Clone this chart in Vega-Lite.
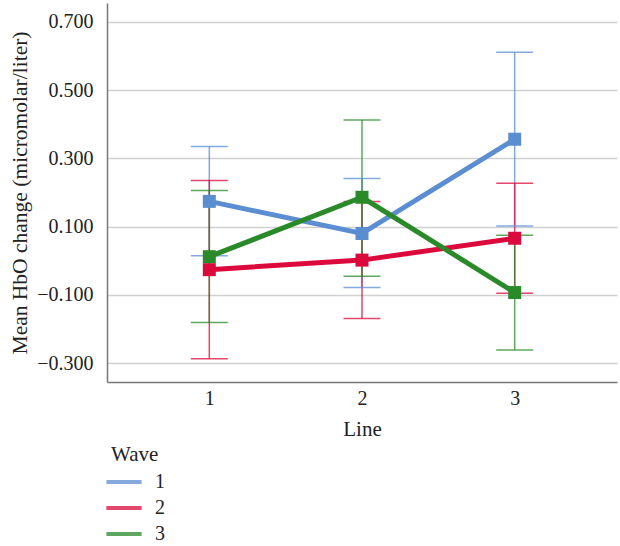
{
  "$schema": "https://vega.github.io/schema/vega-lite/v6.json",
  "width": 510,
  "height": 379,
  "autosize": "none",
  "padding": {"left": 107, "top": 3, "right": 3, "bottom": 164},
  "background": "white",
  "config": {
    "font": "Liberation Serif",
    "view": {"stroke": null},
    "axis": {"labelFont": "Liberation Serif", "titleFont": "Liberation Serif", "labelColor": "#222", "titleColor": "#222", "titleFontWeight": "normal"},
    "legend": {"labelFont": "Liberation Serif", "titleFont": "Liberation Serif", "labelColor": "#222", "titleColor": "#222", "titleFontWeight": "normal"}
  },
  "data": {
    "values": [
      {"Wave": "1", "Line": 1, "mean": 0.174, "lo": 0.015, "hi": 0.335},
      {"Wave": "1", "Line": 2, "mean": 0.080, "lo": -0.078, "hi": 0.241},
      {"Wave": "1", "Line": 3, "mean": 0.356, "lo": 0.102, "hi": 0.611},
      {"Wave": "2", "Line": 1, "mean": -0.026, "lo": -0.287, "hi": 0.235},
      {"Wave": "2", "Line": 2, "mean": 0.002, "lo": -0.169, "hi": 0.174},
      {"Wave": "2", "Line": 3, "mean": 0.066, "lo": -0.095, "hi": 0.227},
      {"Wave": "3", "Line": 1, "mean": 0.012, "lo": -0.181, "hi": 0.206},
      {"Wave": "3", "Line": 2, "mean": 0.186, "lo": -0.045, "hi": 0.412},
      {"Wave": "3", "Line": 3, "mean": -0.093, "lo": -0.261, "hi": 0.075}
    ]
  },
  "encoding": {
    "x": {
      "field": "Line", "type": "quantitative",
      "scale": {"domain": [0.33, 3.67], "nice": false, "zero": false},
      "axis": {"values": [1, 2, 3], "format": "d", "grid": false, "ticks": false, "domainColor": "#777", "domainWidth": 1.5, "labelFontSize": 20, "labelPadding": 6, "title": "Line", "titleFontSize": 21, "titlePadding": 10}
    },
    "color": {
      "field": "Wave", "type": "nominal",
      "scale": {"domain": ["1", "2", "3"], "range": ["#5b8ed0", "#dc0a3c", "#2a8a2a"]},
      "legend": {"orient": "none", "legendX": 4, "legendY": 441, "title": "Wave", "titleFontSize": 21, "labelFontSize": 20, "symbolType": "M-1.6,0H1.6", "symbolSize": 484, "symbolStrokeWidth": 4, "labelOffset": 18, "rowPadding": 3, "titlePadding": 4, "direction": "vertical"}
    }
  },
  "layer": [
    {
      "mark": {"type": "rule", "strokeWidth": 1.5, "opacity": 0.75},
      "encoding": {
        "y": {
          "field": "lo", "type": "quantitative",
          "scale": {"domain": [-0.355, 0.755], "nice": false, "zero": false},
          "axis": {"values": [-0.3, -0.1, 0.1, 0.3, 0.5, 0.7], "format": ".3f", "grid": true, "gridColor": "#d0d0d0", "gridWidth": 1.5, "ticks": false, "domainColor": "#777", "domainWidth": 1.5, "labelFontSize": 20, "labelPadding": 14, "title": "Mean HbO change (micromolar/liter)", "titleFontSize": 21.5, "titleX": -87, "titleBaseline": "middle"}
        },
        "y2": {"field": "hi"}
      }
    },
    {
      "mark": {"type": "tick", "orient": "horizontal", "size": 37, "thickness": 1.5, "opacity": 0.75},
      "encoding": {"y": {"field": "lo", "type": "quantitative"}}
    },
    {
      "mark": {"type": "tick", "orient": "horizontal", "size": 37, "thickness": 1.5, "opacity": 0.75},
      "encoding": {"y": {"field": "hi", "type": "quantitative"}}
    },
    {
      "mark": {"type": "line", "strokeWidth": 5},
      "encoding": {"y": {"field": "mean", "type": "quantitative"}}
    },
    {
      "mark": {"type": "square", "size": 169, "opacity": 1, "filled": true},
      "encoding": {"y": {"field": "mean", "type": "quantitative"}}
    }
  ]
}
